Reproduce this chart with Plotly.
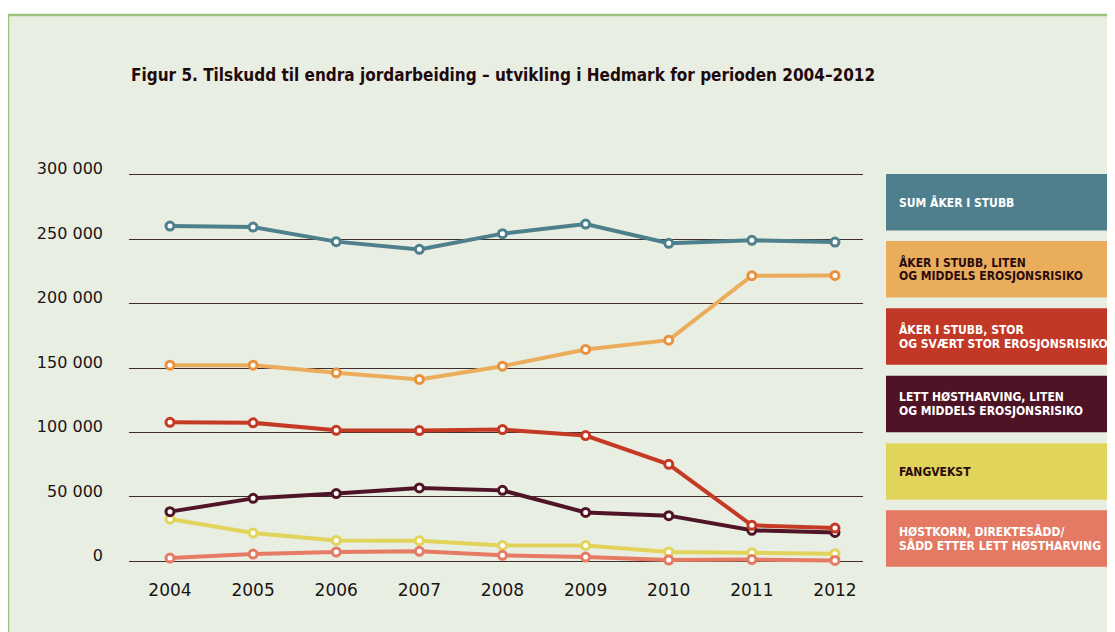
import plotly.graph_objects as go

# ---------------- data ----------------
years = [2004, 2005, 2006, 2007, 2008, 2009, 2010, 2011, 2012]
year_labels = ["2004", "2005", "2006", "2007", "2008", "2009", "2010", "2011", "2012"]

sum_aker_i_stubb = [260100, 259300, 248000, 242000, 254200, 261600, 246700, 249000, 247700]
aker_liten_middels = [152200, 152200, 146300, 141100, 151400, 164400, 171600, 221600, 221800]
aker_stor_svaert_stor = [107900, 107500, 101700, 101500, 102300, 97600, 75300, 28000, 25900]
lett_hostharving = [38600, 48900, 52600, 57000, 55100, 38000, 35500, 24100, 22500]
fangvekst = [32900, 22000, 16300, 16100, 12400, 12400, 7300, 6800, 6000]
hostkorn = [2600, 5700, 7300, 7800, 4700, 3400, 1100, 1400, 800]

y_tickvals = [0, 50000, 100000, 150000, 200000, 250000, 300000]
y_ticklabels = ["0", "50 000", "100 000", "150 000", "200 000", "250 000", "300 000"]

legend_labels = [
    ["SUM ÅKER I STUBB"],
    ["ÅKER I STUBB, LITEN", "OG MIDDELS EROSJONSRISIKO"],
    ["ÅKER I STUBB, STOR", "OG SVÆRT STOR EROSJONSRISIKO"],
    ["LETT HØSTHARVING, LITEN", "OG MIDDELS EROSJONSRISIKO"],
    ["FANGVEKST"],
    ["HØSTKORN, DIREKTESÅDD/", "SÅDD ETTER LETT HØSTHARVING"],
]

title_text = "Figur 5. Tilskudd til endra jordarbeiding – utvikling i Hedmark for perioden 2004–2012"

# ---------------- styles ----------------
series = [
    # (values, line colour, marker outline colour, legend index)
    (fangvekst, "#e2d45a", "#e2d45a", 4),
    (hostkorn, "#e57b64", "#e57b64", 5),
    (lett_hostharving, "#4f1526", "#4f1526", 3),
    (aker_stor_svaert_stor, "#c53a25", "#c53a25", 2),
    (aker_liten_middels, "#ebad5b", "#e8913e", 1),
    (sum_aker_i_stubb, "#4e7f8c", "#4e7f8c", 0),
]
legend_fill = ["#4f7f8c", "#e9ad5c", "#c23826", "#4e1426", "#e0d45a", "#e47a64"]
legend_textcol = ["#ffffff", "#2a0c10", "#ffffff", "#ffffff", "#2a0c10", "#ffffff"]

COND = "DejaVu Sans Condensed, Liberation Sans Narrow, Arial Narrow, sans-serif"

# page body has an 8px margin: the figure is drawn 8px right/down
OFF = 8
W, Hh = 1115 - OFF, 632 - OFF
L, R = 129, 863        # plot area in reference pixels
T, B = 172, 564
PW, PH = R - L, B - T


def px(x):
    return (x - L) / PW


def py(y):
    return (B - y) / PH


fig = go.Figure()
for vals, lc, mc, idx in series:
    fig.add_trace(go.Scatter(
        x=years, y=vals, mode="lines+markers",
        name=" ".join(legend_labels[idx]),
        line=dict(color=lc, width=4),
        marker=dict(size=8, color="#ffffff", line=dict(color=mc, width=3)),
        cliponaxis=False, showlegend=False,
    ))

shapes = []
shapes.append(dict(type="rect", xref="paper", yref="paper", layer="below",
                   x0=px(8), x1=px(1140), y0=py(15), y1=py(660),
                   fillcolor="#e9eee2", line=dict(color="#9cc47e", width=2.5)))

annotations = []
box_tops = [174, 241, 308.3, 375.7, 443.3, 510.3]
box_h = 56.5
for i, labels in enumerate(legend_labels):
    y0 = box_tops[i]
    y1 = y0 + box_h
    shapes.append(dict(type="rect", xref="paper", yref="paper", layer="above",
                       x0=px(886), x1=px(1112), y0=py(y1), y1=py(y0),
                       fillcolor=legend_fill[i], line=dict(width=0)))
    cy = (y0 + y1) / 2
    n = len(labels)
    for j, txt in enumerate(labels):
        ly = cy + (j - (n - 1) / 2) * 14
        annotations.append(dict(
            text="<b>" + txt + "</b>", xref="paper", yref="paper",
            x=px(897), y=py(ly), xanchor="left", yanchor="middle",
            showarrow=False,
            font=dict(family=COND, size=12, color=legend_textcol[i]),
        ))

annotations.append(dict(
    text="<b>" + title_text + "</b>", xref="paper", yref="paper",
    x=px(129), y=py(75), xanchor="left", yanchor="middle", showarrow=False,
    font=dict(family=COND, size=17, color="#1e0a0c"),
))

fig.update_layout(
    width=W, height=Hh,
    margin=dict(l=L - OFF, r=1115 - R, t=T - OFF, b=632 - B, pad=0),
    paper_bgcolor="#ffffff",
    plot_bgcolor="rgba(0,0,0,0)",
    shapes=shapes,
    annotations=annotations,
    font=dict(family="DejaVu Sans", color="#1a1414"),
)
fig.update_xaxes(
    range=[2003.507, 2012.337], tickvals=years, ticktext=year_labels,
    showgrid=False, zeroline=False, showline=False, ticks="",
    tickfont=dict(family="DejaVu Sans", size=17, color="#1a1414"),
    ticklabelstandoff=14,
)
fig.update_yaxes(
    range=[-2000, 302000], tickvals=y_tickvals, ticktext=y_ticklabels,
    showgrid=True, gridcolor="#3d2e2b", gridwidth=1,
    zeroline=False, showline=False, ticks="",
    tickfont=dict(family="DejaVu Sans", size=16, color="#1a1414"),
    ticklabelstandoff=25, ticklabelshift=-6,
)

fig.write_html("out.html")
